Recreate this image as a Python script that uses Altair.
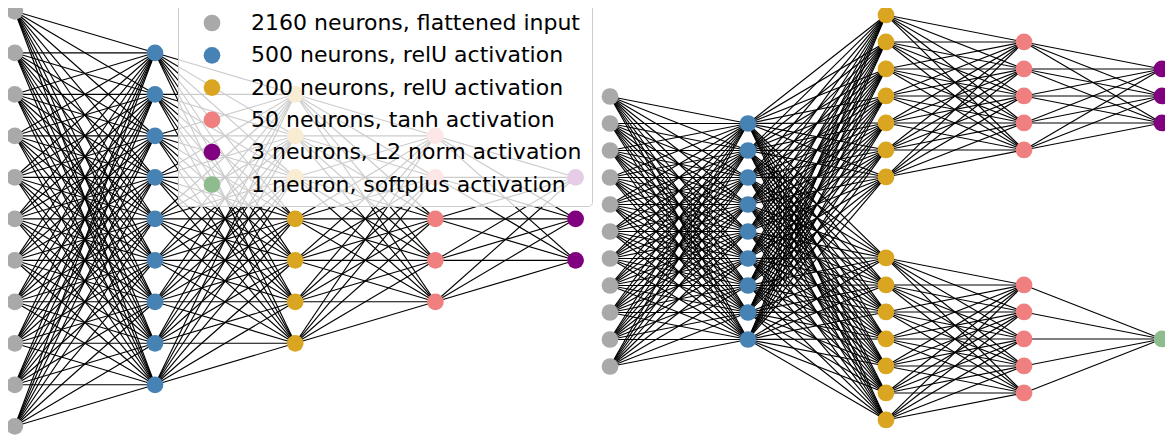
import altair as alt
import pandas as pd

# ---- data: network structure ----
labels = [
    "2160 neurons, flattened input",
    "500 neurons, relU activation",
    "200 neurons, relU activation",
    "50 neurons, tanh activation",
    "3 neurons, L2 norm activation",
    "1 neuron, softplus activation",
]
colors = ["#a9a9a9", "#4682b4", "#daa520", "#f08080", "#800080", "#8fbc8f"]

# left network: blocks (column, centre row offset, node count, kind)
left_cols = [0, 1, 2, 3, 4]
left_centers = [0, 0, 0, 0, 0]
left_sizes = [11, 9, 7, 5, 3]
left_kinds = [0, 1, 2, 3, 4]
left_links = [(0, 1), (1, 2), (2, 3), (3, 4)]

# right network: two branches after the 500-neuron layer
right_cols = [0, 1, 2, 2, 3, 3, 4, 4]
right_centers = [0, 0, 5.02, -3.98, 5.02, -3.98, 5.02, -3.98]
right_sizes = [11, 9, 7, 7, 5, 5, 3, 1]
right_kinds = [0, 1, 2, 2, 3, 3, 4, 5]
right_links = [(0, 1), (1, 2), (1, 3), (2, 4), (3, 5), (4, 6), (5, 7)]


def build(cols, centers, sizes, kinds, links):
    nodes, blocks = [], []
    for c, m, n, k in zip(cols, centers, sizes, kinds):
        pts = [(c, m + (n - 1) / 2 - i) for i in range(n)]
        blocks.append(pts)
        for x, y in pts:
            nodes.append({"x": x, "y": y, "kind": labels[k]})
    edges = []
    for a, b in links:
        for x1, y1 in blocks[a]:
            for x2, y2 in blocks[b]:
                edges.append({"x": x1, "y": y1, "x2": x2, "y2": y2})
    return pd.DataFrame(nodes), pd.DataFrame(edges)


# ---- layout (view) ----
W, H = 1157, 427

legend = alt.Legend(
    title=None, orient="none", legendX=170, legendY=-6,
    labelFont="DejaVu Sans", labelFontSize=22, labelColor="black",
    labelLimit=1000, symbolType="circle", symbolSize=280,
    symbolStrokeWidth=0, symbolOpacity=1, padding=10, rowPadding=10.3,
    symbolOffset=13, labelOffset=28, fillColor="rgba(255,255,255,0.8)",
    strokeColor="#cccccc", cornerRadius=4, zindex=1,
)


def panel(nodes, edges, x0, xstep, yc, ystep):
    xs = alt.Scale(domain=[-x0 / xstep, (W - x0) / xstep], nice=False, zero=False)
    ys = alt.Scale(domain=[-(H - yc) / ystep, yc / ystep], nice=False, zero=False)
    rules = alt.Chart(edges).mark_rule(color="black", strokeWidth=1.15).encode(
        x=alt.X("x:Q", scale=xs, axis=None),
        y=alt.Y("y:Q", scale=ys, axis=None),
        x2="x2:Q",
        y2="y2:Q",
    )
    pts = alt.Chart(nodes).mark_circle(size=280, opacity=1).encode(
        x=alt.X("x:Q", scale=xs, axis=None),
        y=alt.Y("y:Q", scale=ys, axis=None),
        color=alt.Color("kind:N", scale=alt.Scale(domain=labels, range=colors), legend=legend),
    )
    return alt.layer(rules, pts)


ln, le = build(left_cols, left_centers, left_sizes, left_kinds, left_links)
rn, re_ = build(right_cols, right_centers, right_sizes, right_kinds, right_links)

left = panel(ln, le, 6.8, 140.2, 210.8, 41.5)
right = panel(rn, re_, 602, 138, 223.5, 27)

chart = (
    alt.layer(left, right)
    .resolve_scale(x="independent", y="independent")
    .properties(width=W, height=H, autosize=alt.AutoSizeParams(type="none"), padding=0)
    .configure_view(stroke=None)
)

chart.save("out.html", embed_options={"renderer": "svg", "actions": False})
